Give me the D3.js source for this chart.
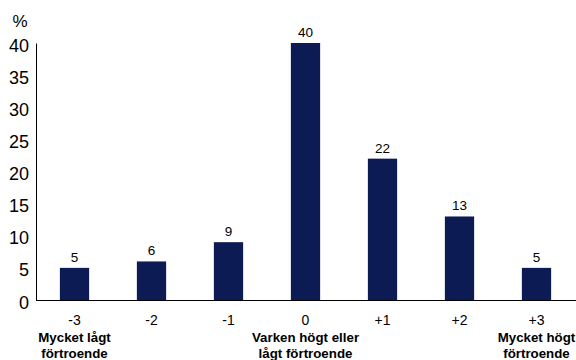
<!DOCTYPE html>
<html><head><meta charset="utf-8">
<script src="https://cdn.jsdelivr.net/npm/d3@7"></script>
<style>body{margin:0;background:#fff}svg{display:block}text{font-family:"Liberation Sans",Arial,sans-serif}</style>
</head><body><svg id="c" width="576" height="360"></svg>
<script>
const categories = ["-3","-2","-1","0","+1","+2","+3"];
const values = [5,6,9,40,22,13,5];
const subLabels = [["Mycket lågt","förtroende"],[],[],["Varken högt eller","lågt förtroende"],[],[],["Mycket högt","förtroende"]];
const yTicks = [0,5,10,15,20,25,30,35,40];

const svg = d3.select("#c");
const mLeft = 36, mRight = 575, mTop = 43, mBottom = 300;
const x = d3.scaleBand().domain(categories).range([mLeft, mRight]).paddingInner(0.62).paddingOuter(0.31);
const y = d3.scaleLinear().domain([0,40]).range([mBottom, mTop]);

svg.selectAll("rect.bar").data(values).join("rect")
  .attr("x",(d,i)=>x(categories[i])).attr("width",x.bandwidth())
  .attr("y",d=>y(d)).attr("height",d=>mBottom-y(d)).attr("fill","#0d1b54");

svg.selectAll("text.val").data(values).join("text")
  .attr("x",(d,i)=>x(categories[i])+x.bandwidth()/2).attr("y",d=>y(d)-6)
  .attr("text-anchor","middle").attr("font-size",13.5).attr("fill","#000").text(d=>d);

// y axis
const yAxis = d3.axisLeft(y).tickValues(yTicks).tickSize(0).tickPadding(7);
const ga = svg.append("g").attr("transform",`translate(${mLeft},0)`).call(yAxis);
ga.select(".domain").attr("stroke","#000").attr("stroke-width",1);
ga.selectAll("text").attr("font-size",18).attr("fill","#000").attr("font-family","'Liberation Sans',Arial,sans-serif").attr("dy","0.45em");

// x axis
const xAxis = d3.axisBottom(x).tickSize(0).tickPadding(15);
const gx = svg.append("g").attr("transform",`translate(0,${mBottom})`).call(xAxis);
gx.select(".domain").attr("d",`M${mLeft},0.5H576`).attr("stroke","#000");
gx.selectAll("text").attr("font-size",14).attr("fill","#000").attr("font-family","'Liberation Sans',Arial,sans-serif").attr("dy","0.71em");

categories.forEach((c,i)=>{
  subLabels[i].forEach((t,j)=>{
    svg.append("text").attr("x",x(c)+x.bandwidth()/2).attr("y",342+j*16)
      .attr("text-anchor","middle").attr("font-size",13.3).attr("font-weight","bold").attr("fill","#000").text(t);
  });
});

svg.append("text").attr("x",20).attr("y",27).attr("text-anchor","middle").attr("font-size",17).attr("fill","#000").text("%");
</script></body></html>
